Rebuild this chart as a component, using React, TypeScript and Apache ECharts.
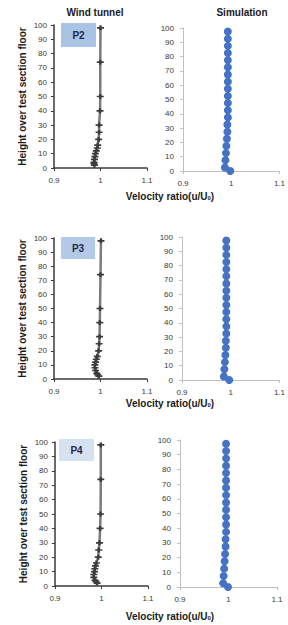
import React, { useEffect, useRef } from "react";
import * as echarts from "echarts";

// ---- data ----
const tunnelHeights = [2, 3, 4, 6, 8, 10, 12, 14, 16, 20, 25, 30, 40, 50, 74, 98];
const tunnelP2 = [0.987, 0.986, 0.986, 0.987, 0.988, 0.989, 0.991, 0.993, 0.994, 0.996, 0.997, 0.997, 0.999, 0.9995, 0.9995, 1.0];
const tunnelP3 = [0.9965, 0.994, 0.992, 0.9895, 0.988, 0.988, 0.9895, 0.991, 0.993, 0.996, 0.997, 0.998, 0.9985, 0.999, 1.0, 1.001];
const tunnelP4 = [0.9905, 0.988, 0.986, 0.9835, 0.9835, 0.985, 0.9857, 0.987, 0.989, 0.993, 0.994, 0.9957, 0.997, 0.998, 0.9985, 0.9985];

const simHeights = [0, 2.5, 7.5, 12.5, 17.5, 22.5, 27.5, 32.5, 37.5, 42.5, 47.5, 52.5, 57.5, 62.5, 67.5, 72.5, 77.5, 82.5, 87.5, 92.5, 97.5];
const simP2 = [0.998, 0.987, 0.988, 0.989, 0.990, 0.991, 0.992, 0.992, 0.993, 0.993, 0.993, 0.993, 0.993, 0.993, 0.993, 0.993, 0.993, 0.993, 0.993, 0.993, 0.993];
const simP3 = [0.997, 0.986, 0.987, 0.988, 0.989, 0.990, 0.990, 0.991, 0.991, 0.991, 0.991, 0.991, 0.991, 0.991, 0.991, 0.991, 0.991, 0.991, 0.991, 0.991, 0.991];
const simP4 = [0.999, 0.989, 0.990, 0.991, 0.992, 0.993, 0.994, 0.994, 0.995, 0.995, 0.995, 0.995, 0.995, 0.995, 0.995, 0.995, 0.995, 0.995, 0.995, 0.995, 0.995];

const panelNames = ["P2", "P3", "P4"];
const xTicks = [0.9, 1, 1.1];
const yTicks = [0, 10, 20, 30, 40, 50, 60, 70, 80, 90, 100];

export default function App() {
  const ref = useRef<HTMLDivElement>(null);

  useEffect(() => {
    if (!ref.current) return;
    const chart = echarts.init(ref.current, undefined, { renderer: "svg" });

    const grids = [
      { left: 54, top: 25, width: 93, height: 143 },
      { left: 183, top: 28, width: 97, height: 143 },
      { left: 54, top: 238, width: 93, height: 141 },
      { left: 182, top: 237, width: 98, height: 143 },
      { left: 55, top: 442, width: 93, height: 144 },
      { left: 180, top: 440, width: 97, height: 147 },
    ];

    const tunnelData = [tunnelP2, tunnelP3, tunnelP4];
    const simData = [simP2, simP3, simP4];

    const xAxes: any[] = [];
    const yAxes: any[] = [];
    const series: any[] = [];
    const labelFont = "Liberation Sans, Arial, sans-serif";

    grids.forEach((g, i) => {
      const isTunnel = i % 2 === 0;
      const axisColor = isTunnel ? "#3a3a3a" : "#bfbfbf";
      xAxes.push({
        type: "value",
        gridIndex: i,
        min: xTicks[0],
        max: xTicks[xTicks.length - 1],
        interval: 0.1,
        splitLine: { show: false },
        axisLine: { show: true, lineStyle: { color: axisColor, width: isTunnel ? 1.5 : 1 } },
        axisTick: { show: true, length: 3, lineStyle: { color: axisColor } },
        axisLabel: {
          margin: 8,
          fontSize: 8,
          color: "#3a3a3a",
          fontFamily: labelFont,
          formatter: (v: number) => {
            const r = Math.round(v * 10) / 10;
            return r === 1 ? "1" : r.toFixed(1);
          },
        },
      });
      yAxes.push({
        type: "value",
        gridIndex: i,
        min: yTicks[0],
        max: yTicks[yTicks.length - 1],
        interval: 10,
        splitLine: { show: false },
        axisLine: { show: true, lineStyle: { color: axisColor, width: isTunnel ? 1.5 : 1 } },
        axisTick: { show: true, length: 3, lineStyle: { color: axisColor } },
        axisLabel: { margin: isTunnel ? 7 : 9, fontSize: 8, color: "#3a3a3a", fontFamily: labelFont },
        name: isTunnel ? "Height over test section floor" : "",
        nameLocation: "middle",
        nameRotate: 90,
        nameGap: 27,
        nameTextStyle: { fontSize: 10, fontWeight: "bold", color: "#1a1a1a", fontFamily: labelFont },
      });
      const p = Math.floor(i / 2);
      if (isTunnel) {
        series.push({
          type: "line",
          xAxisIndex: i,
          yAxisIndex: i,
          data: tunnelHeights.map((h, k) => [tunnelData[p][k], h]),
          lineStyle: { color: "#7a7a7a", width: 2.5 },
          symbol: "path://M2,0h2v2h2v2h-2v2h-2v-2h-2v-2h2z",
          symbolSize: [7, 5],
          itemStyle: { color: "#3c3c3c" },
          silent: true,
        });
      } else {
        series.push({
          type: "line",
          xAxisIndex: i,
          yAxisIndex: i,
          data: simHeights.map((h, k) => [simData[p][k], h]),
          lineStyle: { color: "#4472c4", width: 1 },
          symbol: "circle",
          symbolSize: 8,
          itemStyle: { color: "#4473c5" },
          silent: true,
        });
      }
    });

    const velocityTitleY = [191, 398, 611];
    const titleStyle = { fontSize: 10, fontWeight: "bold", color: "#1a1a1a", fontFamily: labelFont };
    const titles: any[] = [
      { text: "Wind tunnel", left: 95, top: 7, padding: 0, textAlign: "center", textStyle: titleStyle },
      { text: "Simulation", left: 242, top: 7, padding: 0, textAlign: "center", textStyle: titleStyle },
      ...velocityTitleY.map((y) => ({
        text: "Velocity ratio(u/U{s|0})",
        left: 170,
        top: y,
        padding: 0,
        textAlign: "center",
        textStyle: {
          ...titleStyle,
          rich: {
            s: { fontSize: 6, fontWeight: "bold", color: "#1a1a1a", verticalAlign: "bottom", padding: [4, 0, 0, 0], fontFamily: labelFont },
          },
        },
      })),
    ];

    const boxes = [
      { x: 61, y: 23, w: 35, h: 24, fill: "#a9c3e5" },
      { x: 61, y: 237, w: 34, h: 22, fill: "#b3c9e7" },
      { x: 59, y: 439, w: 35, h: 22, fill: "#d6e2f1" },
    ];
    const graphics: any[] = [];
    boxes.forEach((b, k) => {
      graphics.push({
        type: "rect",
        shape: { x: b.x, y: b.y, width: b.w, height: b.h },
        style: { fill: b.fill },
        silent: true,
      });
      graphics.push({
        type: "text",
        x: b.x + b.w / 2,
        y: b.y + b.h / 2,
        style: {
          text: panelNames[k],
          fontSize: 10,
          fontWeight: "bold",
          fill: "#1f2b45",
          fontFamily: labelFont,
          align: "center",
          verticalAlign: "middle",
        },
        silent: true,
      });
    });

    chart.setOption({
      animation: false,
      backgroundColor: "#ffffff",
      title: titles,
      grid: grids,
      xAxis: xAxes,
      yAxis: yAxes,
      series,
      graphic: graphics,
    });

    return () => chart.dispose();
  }, []);

  return (
    <div
      ref={ref}
      style={{ position: "absolute", left: 0, top: 0, width: 288, height: 625 }}
    />
  );
}
